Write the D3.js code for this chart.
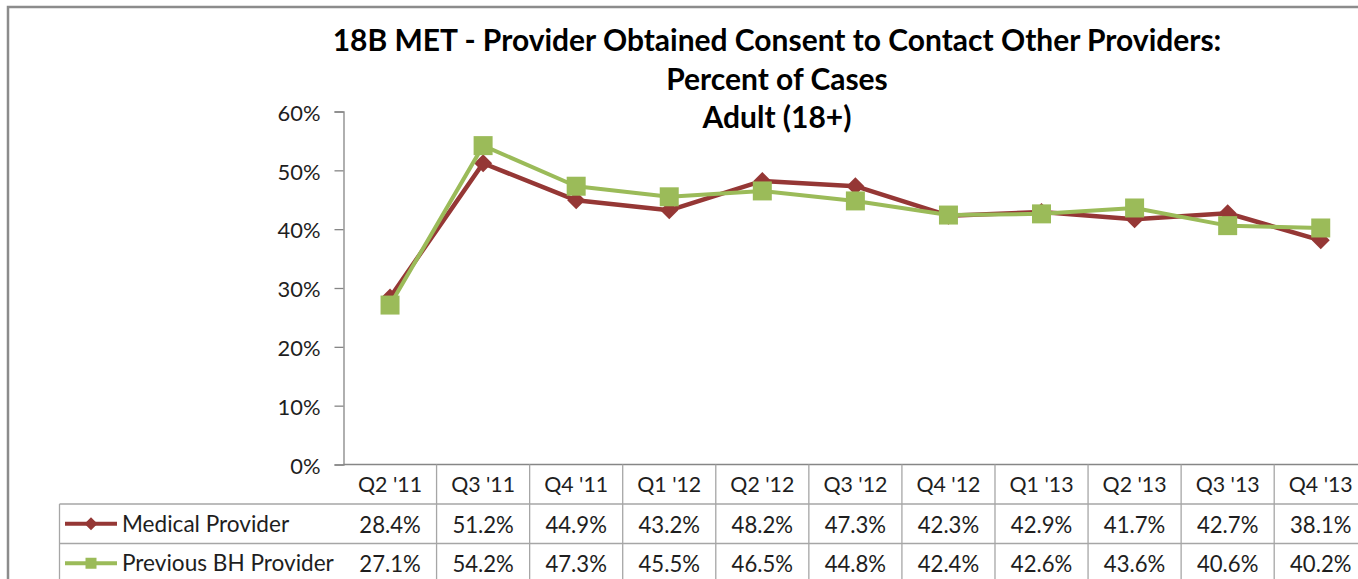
<!DOCTYPE html>
<html>
<head>
<meta charset="utf-8">
<script src="https://cdn.jsdelivr.net/npm/d3@7"></script>
<style>
  html, body { margin: 0; padding: 0; background: #fff; overflow: hidden; }
  svg { display: block; font-family: Lato, "Open Sans", sans-serif; }
</style>
</head>
<body>
<script>
// chart data
const quarters = ["Q2 '11", "Q3 '11", "Q4 '11", "Q1 '12", "Q2 '12", "Q3 '12",
  "Q4 '12", "Q1 '13", "Q2 '13", "Q3 '13", "Q4 '13"];
const medical = [28.4, 51.2, 44.9, 43.2, 48.2, 47.3, 42.3, 42.9, 41.7, 42.7, 38.1];
const previousBH = [27.1, 54.2, 47.3, 45.5, 46.5, 44.8, 42.4, 42.6, 43.6, 40.6, 40.2];
const yTicks = [0, 10, 20, 30, 40, 50, 60];
const titleLines = [
  "18B MET - Provider Obtained Consent to Contact Other Providers:",
  "Percent of Cases",
  "Adult (18+)"
];

const series = [
  { name: "Medical Provider", values: medical, color: "#953735", marker: "diamond" },
  { name: "Previous BH Provider", values: previousBH, color: "#9BBB59", marker: "square" }
];

const width = 1358, height = 579;
const plot = { left: 343.5, top: 111.5, bottom: 464.5, colW: 93.07 };
const legendLeft = 59.5;
const rowH = 39.5;
const textColor = "#1e1e1e";

const svg = d3.select("body").append("svg")
  .attr("width", width)
  .attr("height", height);

// pick a font size so that a sample string gets the width seen in the original
function fitSize(sample, target, weight) {
  const t = svg.append("text")
    .attr("font-size", 20)
    .attr("font-weight", weight || "normal")
    .text(sample);
  const w = t.node().getComputedTextLength();
  t.remove();
  return w > 0 ? 20 * target / w : 20;
}

const titleSize = fitSize(titleLines[0], 889, "bold");
const headerSize = fitSize("Q3 '11", 64);
const valueSize = fitSize("51.2%", 61.5);
const legendSize = fitSize("Previous BH Provider", 212);
const tickSize = fitSize("20%", 43);

// outer chart frame (cropped on the right and bottom)
svg.append("path")
  .attr("d", `M8,${height + 5} V7 H${width + 5}`)
  .attr("fill", "none")
  .attr("stroke", "#8c8c8c")
  .attr("stroke-width", 2.5);

// title
const title = svg.append("text")
  .attr("text-anchor", "middle")
  .attr("font-weight", "bold")
  .attr("font-size", titleSize)
  .attr("fill", "#000");
titleLines.forEach((t, i) => {
  title.append("tspan")
    .attr("x", 777)
    .attr("y", 51 + i * 38.5)
    .text(t);
});

const x = d3.scaleBand()
  .domain(quarters)
  .range([plot.left, plot.left + plot.colW * quarters.length]);
const cx = d => x(d) + x.bandwidth() / 2;

const y = d3.scaleLinear()
  .domain([0, 60])
  .range([plot.bottom, plot.top]);

// y axis
const yAxis = svg.append("g")
  .attr("transform", `translate(${plot.left},0)`)
  .call(d3.axisLeft(y).tickValues(yTicks).tickSize(9).tickFormat(d => d + "%"));
yAxis.select(".domain").attr("stroke", "#868686").attr("stroke-width", 1.3);
yAxis.selectAll(".tick line").attr("stroke", "#868686").attr("stroke-width", 1.3);
yAxis.selectAll(".tick text")
  .attr("x", -23)
  .attr("dy", "0.4em")
  .attr("font-family", "Lato, sans-serif")
  .attr("font-size", tickSize)
  .attr("fill", textColor);

// data table grid
const grid = svg.append("g")
  .attr("stroke", "#a6a6a6")
  .attr("stroke-width", 1.3)
  .attr("fill", "none");
const rowTops = [plot.bottom, plot.bottom + rowH, plot.bottom + rowH * 2];
grid.append("line")
  .attr("x1", plot.left).attr("x2", width + 10)
  .attr("y1", rowTops[0]).attr("y2", rowTops[0])
  .attr("stroke", "#868686");
[rowTops[1], rowTops[2]].forEach(ry => {
  grid.append("line")
    .attr("x1", legendLeft).attr("x2", width + 10)
    .attr("y1", ry).attr("y2", ry);
});
grid.append("line")
  .attr("x1", legendLeft).attr("x2", legendLeft)
  .attr("y1", rowTops[1]).attr("y2", height + 5);
grid.selectAll("line.col")
  .data(quarters.slice(1))
  .enter().append("line")
  .attr("class", "col")
  .attr("x1", d => x(d)).attr("x2", d => x(d))
  .attr("y1", rowTops[0]).attr("y2", height + 5);

// category labels in header row
svg.append("g").selectAll("text")
  .data(quarters)
  .enter().append("text")
  .attr("x", cx)
  .attr("y", rowTops[0] + rowH / 2 + 0.5)
  .attr("dy", "0.36em")
  .attr("text-anchor", "middle")
  .attr("font-size", headerSize)
  .attr("fill", textColor)
  .text(d => d);

// symbol helpers
const markerPath = (type, size) => type === "diamond"
  ? `M0,${-size}L${size},0L0,${size}L${-size},0Z`
  : `M${-size},${-size}H${size}V${size}H${-size}Z`;

// table rows: legend key + values
series.forEach((s, si) => {
  const rowY = rowTops[si + 1] + rowH / 2;
  const g = svg.append("g");
  g.append("line")
    .attr("x1", 65).attr("x2", 117)
    .attr("y1", rowY).attr("y2", rowY)
    .attr("stroke", s.color)
    .attr("stroke-width", 4);
  g.append("path")
    .attr("transform", `translate(91,${rowY})`)
    .attr("d", markerPath(s.marker, s.marker === "diamond" ? 6.5 : 5.5))
    .attr("fill", s.color);
  g.append("text")
    .attr("x", 122)
    .attr("y", rowY)
    .attr("dy", "0.36em")
    .attr("font-size", legendSize)
    .attr("fill", textColor)
    .text(s.name);
  g.selectAll("text.val")
    .data(s.values)
    .enter().append("text")
    .attr("class", "val")
    .attr("x", (d, i) => cx(quarters[i]))
    .attr("y", rowY + 1)
    .attr("dy", "0.36em")
    .attr("text-anchor", "middle")
    .attr("font-size", valueSize)
    .attr("fill", textColor)
    .text(d => d.toFixed(1) + "%");
});

// lines and markers
const line = d3.line()
  .x((d, i) => cx(quarters[i]))
  .y(d => y(d));

series.forEach(s => {
  const g = svg.append("g");
  g.append("path")
    .datum(s.values)
    .attr("d", line)
    .attr("fill", "none")
    .attr("stroke", s.color)
    .attr("stroke-width", s.marker === "diamond" ? 4.5 : 4)
    .attr("stroke-linejoin", "round");
  g.selectAll("path.mk")
    .data(s.values)
    .enter().append("path")
    .attr("class", "mk")
    .attr("transform", (d, i) => `translate(${cx(quarters[i])},${y(d)})`)
    .attr("d", markerPath(s.marker, s.marker === "diamond" ? 9 : 9.5))
    .attr("fill", s.color);
});
</script>
</body>
</html>
